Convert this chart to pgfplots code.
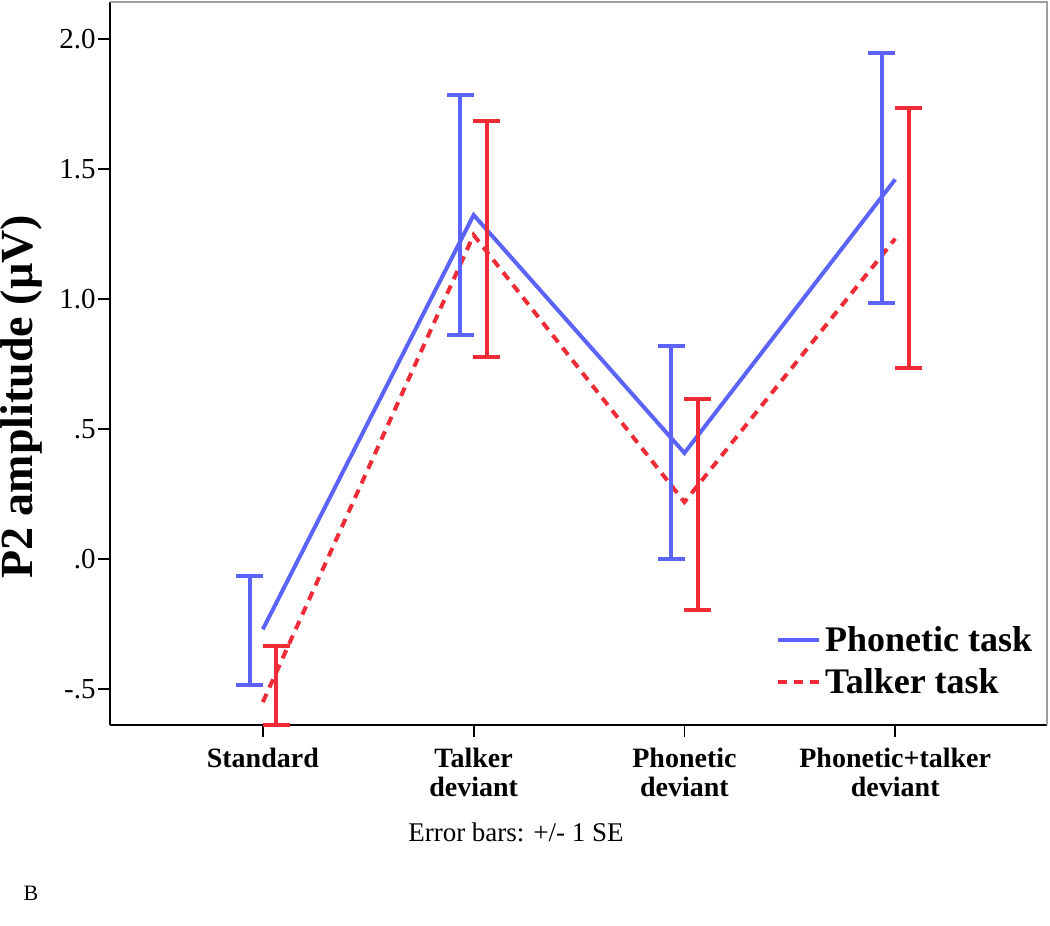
\documentclass[border=0pt]{standalone}
\usepackage{fontspec}
\setmainfont{Liberation Serif}
\usepackage{pgfplots}
\pgfplotsset{compat=1.18}
\definecolor{taskblue}{HTML}{5B63F8}
\definecolor{taskred}{HTML}{EE2B36}

\begin{document}
\begin{tikzpicture}
\useasboundingbox (-55pt,-100.5pt) rectangle (470pt,362.5pt);
\begin{axis}[
    at={(0,0)}, anchor=south west,
    width=468.5pt, height=361.5pt, scale only axis,
    xmin=-0.725, xmax=3.72, ymin=-0.638, ymax=2.142,
    clip=false,
    axis x line*=bottom, axis y line*=left,
    axis line style={black, line width=0.9pt, -},
    xtick={0,1,2,3},
    xticklabels={Standard, Talker\\deviant, Phonetic\\deviant, Phonetic+talker\\deviant},
    ytick={-0.5,0,0.5,1,1.5,2},
    yticklabels={-.5,.0,.5,1.0,1.5,2.0},
    tick align=outside, major tick length=6pt,
    tick style={black, line width=0.9pt},
    xticklabel style={font=\fontsize{14}{14.5}\selectfont\bfseries, align=center, yshift=-2pt},
    yticklabel style={font=\fontsize{14.5}{16}\selectfont, inner sep=1pt},
    ylabel={P2 amplitude (µV)},
    ylabel style={font=\fontsize{23}{26}\selectfont\bfseries,
        at={(axis description cs:-0.094,0.454)}, anchor=center},
    legend style={draw=none, fill=none, at={(0.704,0.148)}, anchor=north west,
        font=\fontsize{18}{20}\selectfont\bfseries, row sep=3pt},
    legend cell align=left,
    legend image code/.code={\draw[#1] (0pt,0pt) -- (20.5pt,0pt);},
]
% group means
\addplot[taskblue, line width=2pt] coordinates {
    (0,-0.27) (1,1.323) (2,0.408) (3,1.46)
};
\addlegendentry{Phonetic task}
\addplot[taskred, line width=2pt, dash pattern=on 4.5pt off 3.5pt] coordinates {
    (0,-0.55) (1,1.246) (2,0.219) (3,1.232)
};
\addlegendentry{Talker task}

% +/- 1 SE, offset a little to each side of the category
\addplot[forget plot, draw=none, mark=none,
    error bars/.cd, y dir=both, y explicit,
    error bar style={draw=taskblue, line width=2pt, solid},
    error mark options={rotate=90, mark size=6.75pt, line width=2pt, draw=taskblue}]
coordinates {
    (-0.063,-0.275) +- (0,0.21)
    (0.937,1.323) +- (0,0.461)
    (1.937,0.41) +- (0,0.41)
    (2.937,1.466) +- (0,0.48)
};
\addplot[forget plot, draw=none, mark=none,
    error bars/.cd, y dir=both, y explicit,
    error bar style={draw=taskred, line width=2pt, solid},
    error mark options={rotate=90, mark size=6.75pt, line width=2pt, draw=taskred}]
coordinates {
    (0.063,-0.55) += (0,0.215) -= (0,0.088)
    (1.063,1.231) +- (0,0.454)
    (2.063,0.21) +- (0,0.405)
    (3.063,1.235) +- (0,0.5)
};

\draw[gray!75, line width=1.3pt] (rel axis cs:0,1) -- (rel axis cs:1,1) -- (rel axis cs:1,0);
\end{axis}
\node[font=\fontsize{13.5}{15}\selectfont] at (203pt,-53.5pt) {Error bars: +/- 1 SE};
\node[font=\fontsize{11}{13}\selectfont] at (-39.5pt,-84pt) {B};
\end{tikzpicture}
\end{document}
